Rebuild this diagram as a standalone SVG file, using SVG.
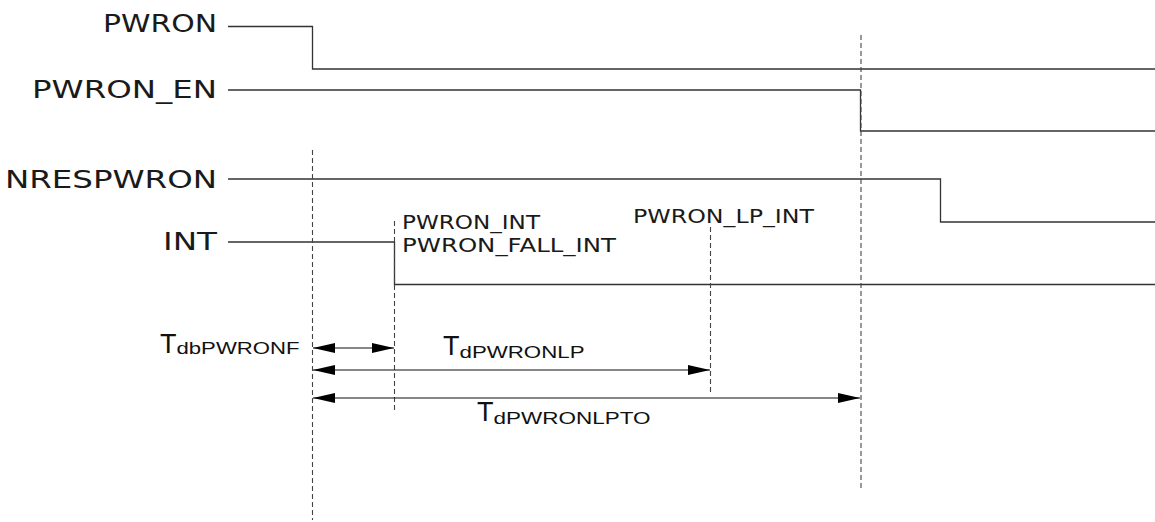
<svg xmlns="http://www.w3.org/2000/svg" width="1155" height="522" viewBox="0 0 1155 522">
<style>
.sig{fill:none;stroke:#333;stroke-width:1.3}
.dash{fill:none;stroke:#444;stroke-width:1.1;stroke-dasharray:5 3}
.arr{fill:none;stroke:#111;stroke-width:1.1;marker-start:url(#ah);marker-end:url(#ah)}
.lbl{font-family:"DejaVu Sans",Verdana,sans-serif;font-size:24px;fill:#1a1a1a}
.sml{font-family:"DejaVu Sans",Verdana,sans-serif;font-size:19px;fill:#1a1a1a}
.T{font-family:"Liberation Sans",Arial,sans-serif;font-size:27px;fill:#111}
.sub{font-family:"Liberation Sans",Arial,sans-serif;font-size:17px;fill:#111}
</style>
<defs>
<marker id="ah" viewBox="0 0 22 10" refX="22" refY="5" markerWidth="22" markerHeight="10" markerUnits="userSpaceOnUse" orient="auto-start-reverse">
<path d="M0,0 L22,5 L0,10 Z" fill="#000"/>
</marker>
</defs>
<rect width="1155" height="522" fill="#fff"/>
<g id="PWRON">
<text class="lbl" x="217" y="32" text-anchor="end" textLength="114" lengthAdjust="spacingAndGlyphs">PWRON</text>
</g>
<g id="PWRON_EN">
<text class="lbl" x="217" y="98" text-anchor="end" textLength="185" lengthAdjust="spacingAndGlyphs">PWRON_EN</text>
</g>
<g id="NRESPWRON">
<text class="lbl" x="217" y="188" text-anchor="end" textLength="212" lengthAdjust="spacingAndGlyphs">NRESPWRON</text>
</g>
<g id="INT">
<text class="lbl" x="217" y="250" text-anchor="end" textLength="54" lengthAdjust="spacingAndGlyphs">INT</text>
</g>
<g id="PWRON_INT_label">
<text class="sml" x="402" y="229" textLength="138" lengthAdjust="spacingAndGlyphs">PWRON_INT</text>
<text class="sml" x="402" y="252" textLength="214" lengthAdjust="spacingAndGlyphs">PWRON_FALL_INT</text>
</g>
<g id="PWRON_LP_INT_label">
<text class="sml" x="633" y="223" textLength="181" lengthAdjust="spacingAndGlyphs">PWRON_LP_INT</text>
</g>
<g id="T_dbPWRONF">
<text x="160" y="353"><tspan class="T">T</tspan><tspan class="sub" dy="1" textLength="123" lengthAdjust="spacingAndGlyphs">dbPWRONF</tspan></text>
</g>
<g id="T_dPWRONLP">
<text x="443" y="355"><tspan class="T">T</tspan><tspan class="sub" dy="3" textLength="125" lengthAdjust="spacingAndGlyphs">dPWRONLP</tspan></text>
</g>
<g id="T_dPWRONLPTO">
<text x="477" y="421"><tspan class="T">T</tspan><tspan class="sub" dy="3" textLength="157" lengthAdjust="spacingAndGlyphs">dPWRONLPTO</tspan></text>
</g>
<g id="connectors">
<path class="sig" d="M228,26.5 H312.5 V69 H1155"/>
<path class="sig" d="M228,90 H860.5 V131 H1155"/>
<path class="sig" d="M228,179 H940.5 V222 H1155"/>
<path class="sig" d="M228,242 H394.5 V284.5 H1155"/>
<line class="dash" x1="312.5" y1="150" x2="312.5" y2="520"/>
<line class="dash" x1="394.5" y1="221" x2="394.5" y2="412"/>
<line class="dash" x1="710.5" y1="227" x2="710.5" y2="393"/>
<line class="dash" x1="861" y1="35" x2="861" y2="490"/>
<line class="arr" x1="313" y1="348" x2="394" y2="348"/>
<line class="arr" x1="313" y1="370" x2="710" y2="370"/>
<line class="arr" x1="313" y1="398" x2="860" y2="398"/>
</g>
</svg>
